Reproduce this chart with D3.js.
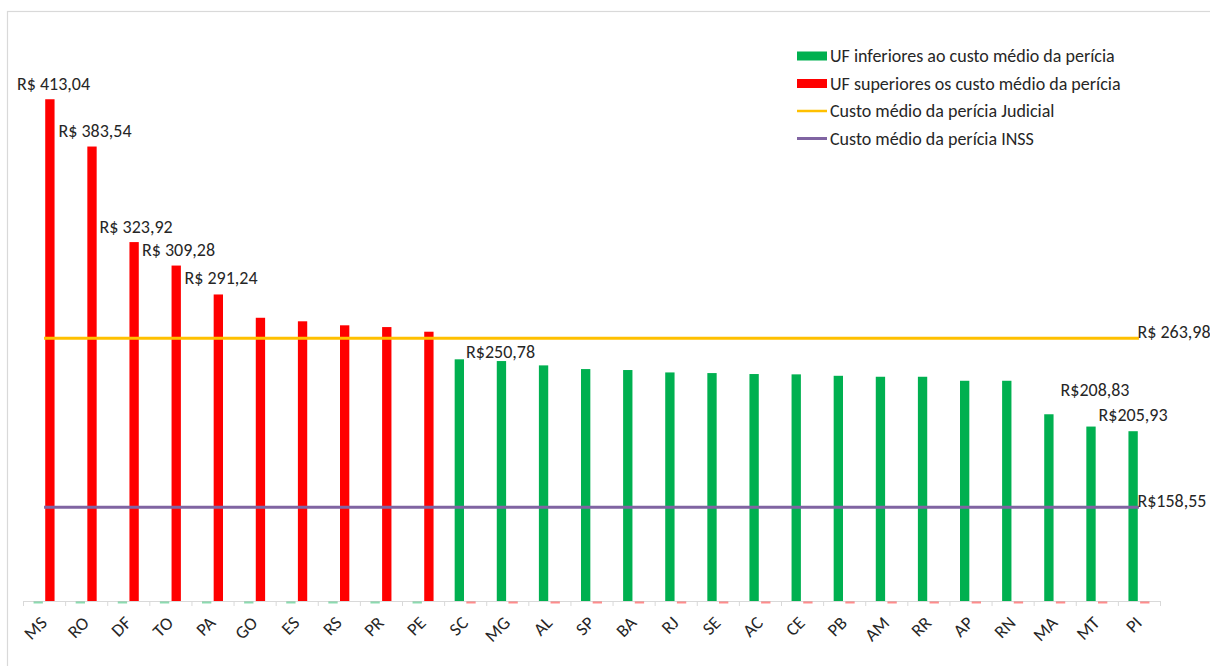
<!DOCTYPE html>
<html><head><meta charset="utf-8">
<script src="https://cdn.jsdelivr.net/npm/d3@7"></script>
<style>
body{margin:0;background:#fff}
text{font-family:Calibri,Carlito,Lato,"Open Sans",sans-serif;fill:#262626}
</style>
</head><body><svg id="c" width="1210" height="666"></svg>
<script>
const categories = ["MS","RO","DF","TO","PA","GO","ES","RS","PR","PE","SC","MG","AL","SP","BA","RJ","SE","AC","CE","PB","AM","RR","AP","RN","MA","MT","PI"];
const inferiores = [0,0,0,0,0,0,0,0,0,0,250.78,249.7,247.0,244.7,244.1,242.6,242.2,241.6,241.4,240.5,239.9,239.9,237.4,237.4,216.5,208.83,205.93];
const superiores = [413.04,383.54,323.92,309.28,291.24,276.7,274.5,272.0,270.9,268.0,0,0,0,0,0,0,0,0,0,0,0,0,0,0,0,0,0];
const mediaJudicial = 263.98;
const mediaINSS = 158.55;
const seriesNames = ["UF inferiores ao custo médio da perícia","UF superiores os custo médio da perícia","Custo médio da perícia Judicial","Custo médio da perícia INSS"];
const labelCats = ["MS","RO","DF","TO","PA","SC","MT","PI"];
const labelTexts = ["R$ 413,04","R$ 383,54","R$ 323,92","R$ 309,28","R$ 291,24","R$250,78","R$208,83","R$205,93"];
const lineLabelTexts = ["R$ 263,98","R$158,55"];
const yDomain = [100, 450];

// layout (not data)
const FS = 18;
const colors = {inf:"#00B050", sup:"#FF0000", jud:"#FFC000", inss:"#8064A2"};
const labelLayout = {
  MS:{dx:3.6,dy:-9.5,anchor:"middle"}, RO:{dx:3,dy:-9.5,anchor:"middle"}, DF:{dx:2,dy:-9.5,anchor:"middle"},
  TO:{dx:2.3,dy:-9.5,anchor:"middle"}, PA:{dx:2.7,dy:-10,anchor:"middle"},
  SC:{dx:6.7,dy:-1.3,anchor:"start"}, MT:{dx:4,dy:-30.6,anchor:"middle"}, PI:{dx:0,dy:-10,anchor:"middle"}
};

const svg = d3.select("#c");
svg.append("rect").attr("width",1210).attr("height",666).attr("fill","#fff");
svg.append("rect").attr("x",7.5).attr("y",11.5).attr("width",1220).attr("height",700)
  .attr("fill","none").attr("stroke","#d9d9d9").attr("stroke-width",1.2);

const x = d3.scaleBand().domain(categories).range([23,1160]).padding(0);
const bw = x.bandwidth();
const sub = d3.scaleBand().domain(["inf","sup"]).range([bw/2-10.5,bw/2+10.5]).paddingInner(0.2);
const y = d3.scaleLinear().domain(yDomain).range([601,40]);
const y0 = y(yDomain[0]);

const rows = categories.map((c,i)=>({c, inf:inferiores[i], sup:superiores[i]}));

// axis line and ticks at category boundaries
svg.append("line").attr("x1",x.range()[0]).attr("x2",x.range()[1]).attr("y1",y0+0.5).attr("y2",y0+0.5)
  .attr("stroke","#d9d9d9").attr("stroke-width",1);
svg.append("g").selectAll("line").data(categories.concat(["__end"])).join("line")
  .attr("x1",(d)=> (d==="__end"? x.range()[1] : x(d)) + 0.5)
  .attr("x2",(d)=> (d==="__end"? x.range()[1] : x(d)) + 0.5)
  .attr("y1",y0).attr("y2",y0+5).attr("stroke","#d9d9d9");

// bars
["inf","sup"].forEach(k=>{
  const g = svg.append("g");
  g.selectAll("rect").data(rows).join("rect")
    .attr("x",d=>x(d.c)+sub(k))
    .attr("width",sub.bandwidth())
    .attr("y",d=> d[k] > yDomain[0] ? y(d[k]) : y0+0.5)
    .attr("height",d=> d[k] > yDomain[0] ? y0-y(d[k]) : 2)
    .attr("fill",colors[k])
    .attr("fill-opacity",d=> d[k] > yDomain[0] ? 1 : 0.45);
});

// mean lines
const cx = c => x(c)+bw/2;
const first = categories[0], last = categories[categories.length-1];
[[mediaJudicial,colors.jud,lineLabelTexts[0]],[mediaINSS,colors.inss,lineLabelTexts[1]]].forEach(([v,col,t])=>{
  svg.append("line").attr("x1",cx(first)).attr("x2",cx(last)).attr("y1",y(v)).attr("y2",y(v))
    .attr("stroke",col).attr("stroke-width",3);
  svg.append("text").attr("x",cx(last)-1.5).attr("y",y(v)).attr("font-size",FS).text(t);
});

// x labels (rotated -45)
const xl = svg.append("g").selectAll("g").data(categories).join("g")
  .attr("transform",d=>"translate(" + (cx(d)+4) + ",624)");
xl.append("text")
  .attr("transform","rotate(-45)")
  .attr("text-anchor","end").attr("font-size",FS).text(d=>d);

// bar labels
labelCats.forEach((c,i)=>{
  const idx = categories.indexOf(c);
  const k = inferiores[idx] > yDomain[0] ? "inf" : "sup";
  const v = k==="inf" ? inferiores[idx] : superiores[idx];
  const L = labelLayout[c];
  svg.append("text")
    .attr("x",x(c)+sub(k)+sub.bandwidth()/2+L.dx)
    .attr("y",y(v)+L.dy)
    .attr("text-anchor",L.anchor).attr("font-size",FS).text(labelTexts[i]);
});

// legend
const leg = svg.append("g");
const ly = [56,83.5,111,138.5];
seriesNames.forEach((n,i)=>{
  const col = [colors.inf,colors.sup,colors.jud,colors.inss][i];
  if(i<2) leg.append("rect").attr("x",797).attr("y",ly[i]-4.5).attr("width",30).attr("height",9).attr("fill",col);
  else leg.append("line").attr("x1",797).attr("x2",827).attr("y1",ly[i]).attr("y2",ly[i]).attr("stroke",col).attr("stroke-width",i===2?2.5:3);
  leg.append("text").attr("x",830).attr("y",ly[i]).attr("dy","0.35em").attr("font-size",FS).text(n);
});
</script></body></html>
